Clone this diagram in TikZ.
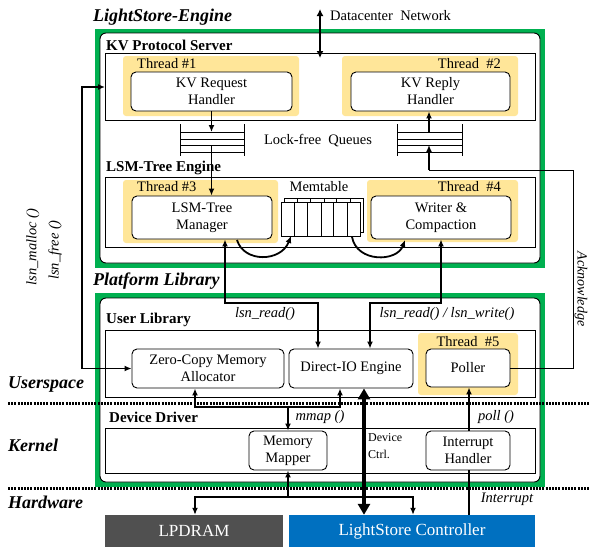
\documentclass[tikz,border=0pt]{standalone}
\usepackage{fontspec}
\setmainfont{Liberation Serif}
\usetikzlibrary{arrows.meta}
\definecolor{frameGreen}{HTML}{00B050}
\definecolor{threadYellow}{HTML}{FFE699}
\definecolor{dramGray}{HTML}{505050}
\definecolor{ctrlBlue}{HTML}{0070C0}

\begin{document}
\begin{tikzpicture}[x=1pt,y=-1pt,
  every node/.style={font=\fontsize{14.5}{17}\selectfont},
  wbox/.style={draw, fill=white, rounded corners=5pt, line width=0.9pt, align=center, inner sep=0pt},
  layerbox/.style={draw, line width=0.9pt},
  threadarea/.style={fill=threadYellow, rounded corners=3pt},
  hwbox/.style={inner sep=0pt, text=white, font=\fontsize{17}{19}\selectfont},
  boxtitle/.style={font=\fontsize{15}{18}\selectfont\bfseries, anchor=west, inner sep=0pt},
  sectitle/.style={font=\fontsize{18}{20}\selectfont\bfseries\itshape, anchor=west, inner sep=0pt},
  callname/.style={font=\fontsize{14.5}{17}\selectfont\itshape, inner sep=0pt},
  plain/.style={inner sep=0pt},
  arr/.style={-{Latex[length=7pt,width=6pt]}, line width=1.8pt},
  arrboth/.style={{Latex[length=7pt,width=6pt]}-{Latex[length=7pt,width=6pt]}, line width=1.8pt},
  queue/.style={line width=1pt},
  levelline/.style={line width=3pt, dash pattern=on 2pt off 1.2pt}
]
\useasboundingbox (0,0) rectangle (589,550);

% ---------- LightStore-Engine frame ----------
\fill[frameGreen] (95,29) rectangle (545,268);
\draw[fill=white, rounded corners=6pt, line width=0.9pt] (100,33) rectangle (540,263);
\node[sectitle] (engTitle) at (93,17) {LightStore-Engine};

% KV protocol server
\node[boxtitle] (kvTitle) at (106,45) {KV Protocol Server};
\draw[layerbox] (105,53) rectangle (535,120);
\fill[threadarea] (123,56) rectangle (299,116);
\fill[threadarea] (342,56) rectangle (518,116);
\node[plain, anchor=west] (t1) at (137,64) {Thread \#1};
\node[plain, anchor=east] (t2) at (501,64) {Thread \ \#2};
\node[wbox, minimum width=161pt, minimum height=39pt] (kvreq) at (211.5,91.5) {KV Request\\Handler};
\node[wbox, minimum width=159pt, minimum height=39pt] (kvrep) at (430.5,91.5) {KV Reply\\Handler};

% lock-free queues
\foreach \yy in {132,139,145,152} {
  \draw[queue] (180,\yy) -- (244,\yy);
  \draw[queue] (397,\yy) -- (462,\yy);
}
\draw[queue] (180,124) -- (180,156);
\draw[queue] (244,124) -- (244,156);
\draw[queue] (397,124) -- (397,156);
\draw[queue] (462,124) -- (462,156);
\node[plain] (lfq) at (318,141) {Lock-free \ Queues};

% LSM-tree engine
\node[boxtitle] (lsmTitle) at (106,168) {LSM-Tree Engine};
\draw[layerbox] (105,177) rectangle (535,247);
\fill[threadarea] (123,180) rectangle (278,243);
\fill[threadarea] (367,180) rectangle (518,242);
\node[plain, anchor=west] (t3) at (137,187) {Thread \#3};
\node[plain, anchor=east] (t4) at (501,187) {Thread \ \#4};
\node[wbox, minimum width=140pt, minimum height=43pt] (lsmmgr) at (202,217.5) {LSM-Tree\\Manager};
\node[wbox, minimum width=140pt, minimum height=43pt] (writer) at (441,217.5) {Writer \&\\Compaction};

% memtable
\node[plain] (memt) at (319,187) {Memtable};
\draw[line width=0.9pt, fill=white] (284,198) rectangle (363,232);
\foreach \xx in {297,310,324,336,350} \draw[line width=0.9pt] (\xx,198) -- (\xx,232);
\draw[line width=0.9pt, fill=white] (281,202) rectangle (360,236);
\foreach \xx in {294,307,321,333,347} \draw[line width=0.9pt] (\xx,202) -- (\xx,236);
\coordinate (memIn) at (291,236);
\coordinate (memOut) at (352,237);
\coordinate (mgrOut) at (237,240);
\coordinate (wrIn) at (405,240);
\draw[arr] (mgrOut) .. controls (244,263) and (281,262) .. (memIn);
\draw[arr] (memOut) .. controls (357,263) and (397,262) .. (wrIn);

% request / reply paths through the queues
\coordinate (q1in) at (211.5,132);
\coordinate (q1out) at (211.5,145);
\coordinate (q2out) at (429,132);
\coordinate (q2in) at (429,145);
\coordinate (ackTop) at (429,170);
\coordinate (ackCorner) at (573,170);
\draw[arr] (kvreq.south) -- (q1in);
\draw[arr] (q1out) -- (q1out |- lsmmgr.north);
\draw[arr] (q2out) -- (q2out |- kvrep.south);
\draw[arr] (ackTop) -- (q2in);

% datacenter network
\coordinate (dcTop) at (320,9);
\coordinate (dcBot) at (320,58);
\draw[{Latex[length=7pt,width=7pt]}-{Latex[length=7pt,width=7pt]}, line width=2.4pt] (dcTop) -- (dcBot);
\node[plain, anchor=west] (dcText) at (330,16) {Datacenter \ Network};

% ---------- Platform Library frame ----------
\node[sectitle] (platTitle) at (93,281) {Platform Library};
\fill[frameGreen] (95,293) rectangle (545,487);
\draw[fill=white, rounded corners=6pt, line width=0.9pt] (100,298) rectangle (540,482);

% user library
\node[boxtitle] (ulTitle) at (106,320) {User Library};
\draw[layerbox] (105,330) rectangle (535,397);
\fill[threadarea] (418,333) rectangle (518,395);
\node[plain] (t5) at (468,342) {Thread \ \#5};
\node[wbox, minimum width=152pt, minimum height=39pt] (zcma) at (208,368.5) {Zero-Copy Memory\\Allocator};
\node[wbox, minimum width=124pt, minimum height=39pt] (dio) at (351,368.5) {Direct-IO Engine};
\node[wbox, minimum width=84pt, minimum height=38pt] (poller) at (468,368) {Poller};
\node[callname] (rdText) at (265,314) {lsn\_read()};
\node[callname] (rwText) at (447,314) {lsn\_read() / lsn\_write()};

% device driver
\node[boxtitle] (ddTitle) at (109,417) {Device Driver};
\draw[layerbox] (105,428) rectangle (535,473);
\node[wbox, minimum width=78pt, minimum height=39pt] (mapper) at (288,450.5) {Memory\\Mapper};
\node[wbox, minimum width=84pt, minimum height=39pt] (irq) at (468,450.5) {Interrupt\\Handler};
\node[callname] (mmText) at (320,417) {mmap ()};
\node[callname] (plText) at (496,417) {poll ()};
\node[plain, anchor=north west, align=left, font=\fontsize{12}{17}\selectfont] (dcCtrl) at (368,433) {Device\\Ctrl.};

% ---------- hardware ----------
\node[hwbox, fill=dramGray, minimum width=178pt, minimum height=32pt] (lpdram) at (194,531) {LPDRAM};
\node[hwbox, fill=ctrlBlue, minimum width=246pt, minimum height=32pt] (ctrl) at (412,531) {LightStore Controller};
\node[callname] (irqText) at (507,499) {Interrupt};

% level separators
\coordinate (usL) at (8,403);
\coordinate (usR) at (589,403);
\coordinate (hwLl) at (8,488);
\coordinate (hwRr) at (589,488);
\draw[levelline] (usL) -- (usR);
\draw[levelline] (hwLl) -- (hwRr);
\node[sectitle] (usText) at (8,385) {Userspace};
\node[sectitle] (knText) at (8,445) {Kernel};
\node[sectitle] (hwText) at (8,502) {Hardware};

% LSM-tree reads and writes through direct IO
\coordinate (rdA) at (225,303);
\coordinate (rdB) at (318,303);
\coordinate (wrA) at (441,303);
\coordinate (wrB) at (370,303);
\draw[arrboth] (rdA |- lsmmgr.south) -- (rdA) -- (rdB) -- (rdB |- dio.north);
\draw[arrboth] (wrA |- writer.south) -- (wrA) -- (wrB) -- (wrB |- dio.north);

% memory allocation calls
\coordinate (mlA) at (82,368.5);
\coordinate (mlB) at (82,87);
\coordinate (kvIn) at (105,87);
\draw[arrboth] (zcma.west) -- (mlA) -- (mlB) -- (kvIn);
\node[callname, rotate=90] (mallocText) at (33,247) {lsn\_malloc ()};
\node[callname, rotate=90] (freeText) at (55,250) {lsn\_free ()};

% mmap path
\coordinate (mmL) at (195,407);
\coordinate (mmR) at (340,407);
\coordinate (mmJ) at (288,407);
\draw[arrboth] (mmL |- zcma.south) -- (mmL) -- (mmR) -- (mmR |- dio.south);
\draw[arr] (mmJ) -- (mapper.north);

% mapped memory to hardware
\coordinate (hwA) at (195,497);
\coordinate (hwB) at (413,497);
\coordinate (hwJ) at (288,497);
\draw[arr] (hwJ) -- (mapper.south);
\draw[arrboth] (hwA |- lpdram.north) -- (hwA) -- (hwB) -- (hwB |- ctrl.north);

% device control
\coordinate (dcx) at (364,0);
\draw[{Triangle[length=11pt,width=12pt]}-{Triangle[length=11pt,width=12pt]}, line width=4.5pt] (dcx |- dio.south) -- (dcx |- ctrl.north);

% interrupt and polling
\coordinate (px) at (469,0);
\draw[arr] (px |- irq.north) -- (px |- poller.south);
\draw[line width=1.3pt] (px |- ctrl.north) -- (px |- irq.south);

% acknowledge path
\draw[line width=1pt] (poller.east) -| (ackCorner) -- (ackTop);
\node[callname, rotate=-90, font=\fontsize{14}{16}\selectfont\itshape] (ackText) at (581,289) {Acknowledge};
\end{tikzpicture}
\end{document}
